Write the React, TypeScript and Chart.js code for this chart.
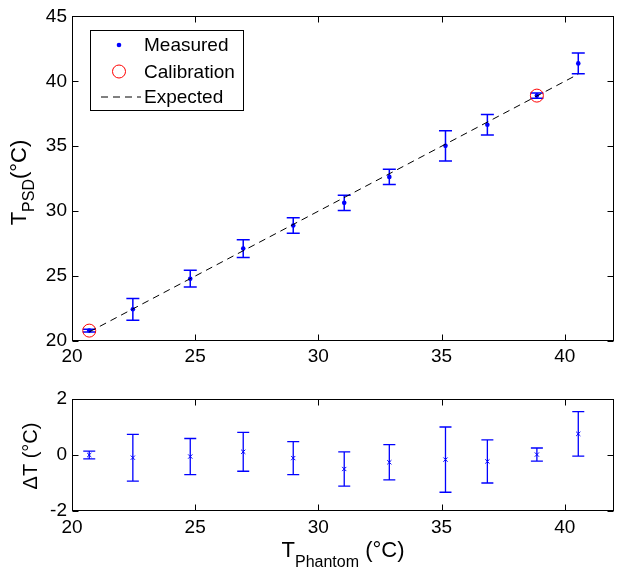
import React, { useEffect, useRef } from 'react';
import { Chart, registerables } from 'chart.js';

Chart.register(...registerables);

// ---------- data ----------
const phantomT = [20.7, 22.47, 24.8, 26.95, 28.98, 31.05, 32.88, 35.16, 36.86, 38.87, 40.55];
const measuredT = [20.8, 22.44, 24.8, 27.12, 28.9, 30.64, 32.64, 35.03, 36.66, 38.9, 41.38];
const measuredErr = [0.1, 0.84, 0.65, 0.68, 0.6, 0.59, 0.59, 1.16, 0.79, 0.2, 0.8];
const calibrationX = [20.7, 38.87];
const calibrationY = [20.8, 38.9];
const expectedX = [20.7, 40.55];
const expectedY = [20.7, 40.55];
const deltaT = [0.0, -0.095, -0.055, 0.115, -0.11, -0.5, -0.26, -0.165, -0.23, 0.015, 0.755];
const deltaErr = [0.14, 0.835, 0.645, 0.695, 0.59, 0.615, 0.63, 1.165, 0.77, 0.235, 0.795];
const xTicks = [20, 25, 30, 35, 40];
const topYTicks = [20, 25, 30, 35, 40, 45];
const bottomYTicks = [-2, 0, 2];
const legendLabels = ['Measured', 'Calibration', 'Expected'];
const topYTitle = ['T', 'PSD', '(°C)'];
const bottomYTitle = ['ΔT (°C)'];
const xTitle = ['T', 'Phantom', ' (°C)'];

const FONT = '"Liberation Sans", Arial, Helvetica, sans-serif';
const BLUE = '#0000ff';

type Part = { t: string; size: number; dy: number };

function drawRich(ctx: CanvasRenderingContext2D, parts: Part[], cx: number, by: number) {
  let total = 0;
  const widths = parts.map((p) => {
    ctx.font = `${p.size}px ${FONT}`;
    const w = ctx.measureText(p.t).width;
    total += w;
    return w;
  });
  let x = cx - total / 2;
  ctx.textAlign = 'left';
  ctx.textBaseline = 'alphabetic';
  ctx.fillStyle = '#000';
  parts.forEach((p, i) => {
    ctx.font = `${p.size}px ${FONT}`;
    ctx.fillText(p.t, x, by + p.dy);
    x += widths[i];
  });
}

const errorBarPlugin = {
  id: 'errorBars',
  beforeDatasetsDraw(chart: any, _args: any, opts: any) {
    const meta = chart.getDatasetMeta(opts.datasetIndex);
    const ds = chart.data.datasets[opts.datasetIndex];
    const ys = chart.scales.y;
    const ctx: CanvasRenderingContext2D = chart.ctx;
    ctx.save();
    ctx.strokeStyle = opts.color;
    ctx.lineWidth = opts.width;
    ds.data.forEach((pt: any, i: number) => {
      const el = meta.data[i];
      const x = el.x;
      const top = ys.getPixelForValue(pt.y + opts.errors[i]);
      const bot = ys.getPixelForValue(pt.y - opts.errors[i]);
      const c = opts.cap;
      ctx.beginPath();
      ctx.moveTo(x, top);
      ctx.lineTo(x, bot);
      ctx.moveTo(x - c, top);
      ctx.lineTo(x + c, top);
      ctx.moveTo(x - c, bot);
      ctx.lineTo(x + c, bot);
      ctx.stroke();
    });
    ctx.restore();
  },
};

const framePlugin = {
  id: 'frame',
  afterDraw(chart: any, _args: any, opts: any) {
    const ctx: CanvasRenderingContext2D = chart.ctx;
    const a = chart.chartArea;
    const xs = chart.scales.x;
    const ys = chart.scales.y;
    const L = Math.round(a.left) + 0.5;
    const R = Math.round(a.right) - 0.5;
    const T = Math.round(a.top) + 0.5;
    const B = Math.round(a.bottom) - 0.5;
    ctx.save();
    ctx.strokeStyle = '#000';
    ctx.lineWidth = 1;
    ctx.strokeRect(L, T, R - L, B - T);
    const tl = 6;
    ctx.beginPath();
    xs.ticks.forEach((t: any) => {
      const px = Math.round(xs.getPixelForValue(t.value)) + 0.5;
      ctx.moveTo(px, B);
      ctx.lineTo(px, B - tl);
      ctx.moveTo(px, T);
      ctx.lineTo(px, T + tl);
    });
    ys.ticks.forEach((t: any) => {
      const py = Math.round(ys.getPixelForValue(t.value)) + 0.5;
      ctx.moveTo(L, py);
      ctx.lineTo(L + tl, py);
      ctx.moveTo(R, py);
      ctx.lineTo(R - tl, py);
    });
    ctx.stroke();

    // y title (rotated)
    if (opts.yTitle) {
      ctx.save();
      ctx.translate(opts.yTitleX, opts.yTitleY);
      ctx.rotate(-Math.PI / 2);
      drawRich(ctx, opts.yTitle, 0, 0);
      ctx.restore();
    }
    if (opts.xTitle) {
      drawRich(ctx, opts.xTitle, opts.xTitleX, opts.xTitleY);
    }
    ctx.restore();
  },
};

const legendPlugin = {
  id: 'boxLegend',
  afterDraw(chart: any) {
    const ctx: CanvasRenderingContext2D = chart.ctx;
    ctx.save();
    ctx.fillStyle = '#fff';
    ctx.fillRect(90.5, 30.5, 153, 80);
    ctx.strokeStyle = '#000';
    ctx.lineWidth = 1;
    ctx.strokeRect(90.5, 30.5, 153, 80);
    const rows = [45, 71.5, 96.5];
    ctx.font = `19px ${FONT}`;
    ctx.textAlign = 'left';
    ctx.textBaseline = 'middle';
    ctx.fillStyle = '#000';
    legendLabels.forEach((lab, i) => ctx.fillText(lab, 144, rows[i] + 1));
    // measured marker
    ctx.fillStyle = BLUE;
    ctx.beginPath();
    ctx.arc(119, rows[0], 2.3, 0, Math.PI * 2);
    ctx.fill();
    // calibration marker
    ctx.strokeStyle = '#ff0000';
    ctx.beginPath();
    ctx.arc(119, rows[1], 6.5, 0, Math.PI * 2);
    ctx.stroke();
    // expected line
    ctx.strokeStyle = '#000';
    ctx.setLineDash([7, 5]);
    ctx.beginPath();
    ctx.moveTo(101, rows[2] + 0.5);
    ctx.lineTo(141, rows[2] + 0.5);
    ctx.stroke();
    ctx.restore();
  },
};

const tickFont = { family: FONT, size: 19 };

function xScale(height: number, pad: number) {
  return {
    type: 'linear' as const,
    min: 20,
    max: 42,
    afterBuildTicks: (s: any) => {
      s.ticks = xTicks.map((v) => ({ value: v }));
    },
    afterFit: (s: any) => {
      s.height = height;
    },
    ticks: { font: tickFont, color: '#000', padding: pad, maxRotation: 0, autoSkip: false },
    grid: { display: false, drawTicks: false },
    border: { display: false },
  };
}

function yScale(min: number, max: number, ticks: number[]) {
  return {
    type: 'linear' as const,
    min,
    max,
    afterBuildTicks: (s: any) => {
      s.ticks = ticks.map((v) => ({ value: v }));
    },
    afterFit: (s: any) => {
      s.width = 72;
    },
    ticks: { font: tickFont, color: '#000', padding: 5, autoSkip: false },
    grid: { display: false, drawTicks: false },
    border: { display: false },
  };
}

export default function App() {
  const topRef = useRef<HTMLCanvasElement>(null);
  const botRef = useRef<HTMLCanvasElement>(null);

  useEffect(() => {
    const top = new Chart(topRef.current as HTMLCanvasElement, {
      type: 'scatter',
      data: {
        datasets: [
          {
            label: 'Expected',
            data: expectedX.map((x, i) => ({ x, y: expectedY[i] })),
            showLine: true,
            borderColor: '#000',
            borderWidth: 1,
            borderDash: [7, 5],
            pointRadius: 0,
            order: 1,
          } as any,
          {
            label: 'Measured',
            data: phantomT.map((x, i) => ({ x, y: measuredT[i] })),
            pointRadius: 2.3,
            pointBackgroundColor: BLUE,
            pointBorderColor: BLUE,
            borderWidth: 0,
            order: 2,
          },
          {
            label: 'Calibration',
            data: calibrationX.map((x, i) => ({ x, y: calibrationY[i] })),
            pointRadius: 6.5,
            pointBackgroundColor: 'rgba(0,0,0,0)',
            pointBorderColor: '#ff0000',
            pointBorderWidth: 1,
            order: 3,
          },
        ],
      },
      options: {
        responsive: false,
        animation: false,
        devicePixelRatio: 1,
        layout: { padding: { top: 16, right: 10, left: 0, bottom: 0 } },
        scales: {
          x: xScale(39, 4),
          y: yScale(20, 45, topYTicks),
        },
        plugins: {
          legend: { display: false },
          tooltip: { enabled: false },
          errorBars: { datasetIndex: 1, errors: measuredErr, cap: 6.5, width: 1.5, color: BLUE },
          frame: {
            yTitle: [
              { t: topYTitle[0], size: 22, dy: 0 },
              { t: topYTitle[1], size: 16, dy: 8 },
              { t: topYTitle[2], size: 22, dy: 0 },
            ],
            yTitleX: 25.5,
            yTitleY: 182.5,
          },
        } as any,
      },
      plugins: [errorBarPlugin, framePlugin, legendPlugin],
    });

    const bottom = new Chart(botRef.current as HTMLCanvasElement, {
      type: 'scatter',
      data: {
        datasets: [
          {
            label: 'ΔT',
            data: phantomT.map((x, i) => ({ x, y: deltaT[i] })),
            pointStyle: 'crossRot',
            pointRadius: 3,
            pointBorderColor: BLUE,
            pointBorderWidth: 1,
            pointBackgroundColor: BLUE,
          },
        ],
      },
      options: {
        responsive: false,
        animation: false,
        devicePixelRatio: 1,
        layout: { padding: { top: 19, right: 10, left: 0, bottom: 0 } },
        scales: {
          x: xScale(66, 5),
          y: yScale(-2, 2, bottomYTicks),
        },
        plugins: {
          legend: { display: false },
          tooltip: { enabled: false },
          errorBars: { datasetIndex: 0, errors: deltaErr, cap: 6, width: 1.3, color: BLUE },
          frame: {
            yTitle: [{ t: bottomYTitle[0], size: 20, dy: 0 }],
            yTitleX: 37,
            yTitleY: 76,
            xTitle: [
              { t: xTitle[0], size: 22, dy: 0 },
              { t: xTitle[1], size: 16, dy: 10 },
              { t: xTitle[2], size: 22, dy: 0 },
            ],
            xTitleX: 343,
            xTitleY: 177,
          },
        } as any,
      },
      plugins: [errorBarPlugin, framePlugin],
    });

    return () => {
      top.destroy();
      bottom.destroy();
    };
  }, []);

  return (
    <div style={{ position: 'fixed', left: 0, top: 0, width: 624, height: 577, background: '#fff' }}>
      <canvas ref={topRef} width={624} height={380} style={{ position: 'absolute', left: 0, top: 0 }} />
      <canvas ref={botRef} width={624} height={197} style={{ position: 'absolute', left: 0, top: 380 }} />
    </div>
  );
}
